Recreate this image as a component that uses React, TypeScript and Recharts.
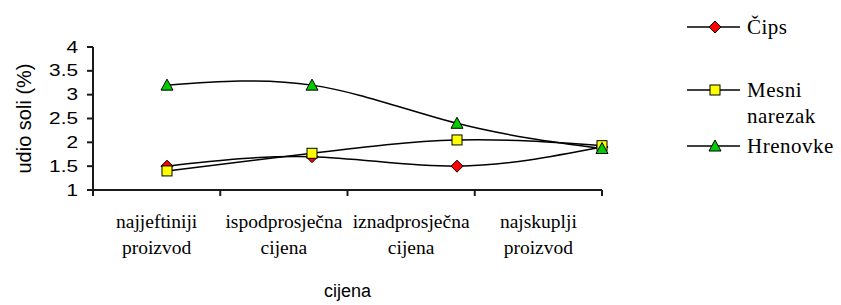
import { LineChart, Line, XAxis, YAxis } from 'recharts'

const categories = ['najjeftiniji\nproizvod', 'ispodprosječna\ncijena', 'iznadprosječna\ncijena', 'najskuplji\nproizvod']
const cips = [1.5, 1.7, 1.5, 1.9]
const mesniNarezak = [1.4, 1.77, 2.05, 1.93]
const hrenovke = [3.2, 3.2, 2.4, 1.87]
const yTicks = [1, 1.5, 2, 2.5, 3, 3.5, 4]
const bandEdges = [0, 1, 2, 3, 4]
const bandCenters = [0.5, 1.5, 2.5, 3.5]
const xTicks = [...bandEdges, ...bandCenters].sort((a, b) => a - b)

const data = categories.map((cat, i) => ({
  cat,
  pos: bandCenters[i],
  cips: cips[i],
  mesni: mesniNarezak[i],
  hrenovke: hrenovke[i],
}))

const SERIF = 'Liberation Serif, DejaVu Serif, serif'
const SANS = 'Liberation Sans, Arial, sans-serif'
const AXIS = '#1a1a1a'

function Diamond({ cx, cy, s = 6 }: any) {
  return <polygon points={`${cx},${cy - s} ${cx + s},${cy} ${cx},${cy + s} ${cx - s},${cy}`} fill="#ff0000" stroke="#000" strokeWidth={1} />
}
function Square({ cx, cy, s = 5 }: any) {
  return <rect x={cx - s} y={cy - s} width={s * 2} height={s * 2} fill="#ffff00" stroke="#000" strokeWidth={1} />
}
function Triangle({ cx, cy, s = 6 }: any) {
  return <polygon points={`${cx},${cy - s} ${cx + s},${cy + s - 1} ${cx - s},${cy + s - 1}`} fill="#00cc00" stroke="#000" strokeWidth={1} />
}

const legendItems = [
  { lines: ['Čips'], Marker: Diamond, top: 17 },
  { lines: ['Mesni', 'narezak'], Marker: Square, top: 80 },
  { lines: ['Hrenovke'], Marker: Triangle, top: 136 },
]

// legend drawn beside the chart, like the Excel original
function LegendBox() {
  return (
    <div style={{ position: 'absolute', left: 680, top: 0, width: 161, height: 170 }}>
      {legendItems.map(({ lines, Marker, top }) => (
        <div key={lines[0]} style={{ position: 'absolute', left: 0, top }}>
          <svg width={60} height={20} style={{ position: 'absolute', left: 0, top: 0 }}>
            <line x1={7} y1={10} x2={60} y2={10} stroke="#000" strokeWidth={1.5} />
            <Marker cx={35} cy={10} />
          </svg>
          <div style={{ position: 'absolute', left: 67, top: -3, fontFamily: SERIF, fontSize: 21, letterSpacing: 0.5, lineHeight: '26px', whiteSpace: 'nowrap' }}>
            {lines.map((l) => <div key={l}>{l}</div>)}
          </div>
        </div>
      ))}
    </div>
  )
}

// edges get a tick mark, band centres get the two-line category label
function CatTick({ x, y, payload }: any) {
  const idx = bandCenters.indexOf(payload.value)
  if (idx < 0) {
    return <path d={`M${x},${y}V${y + 6}`} stroke={AXIS} strokeWidth={2} fill="none" />
  }
  const parts = categories[idx].split('\n')
  return (
    <text x={x} y={y} textAnchor="middle" fontFamily={SERIF} fontSize={19.5} fill="#000">
      {parts.map((p, i) => (
        <tspan key={i} x={x} dy={i === 0 ? 38 : 26}>{p}</tspan>
      ))}
    </text>
  )
}

function YTick({ x, y, payload }: any) {
  return (
    <text transform={`translate(${x},${y}) scale(1.3,1)`} textAnchor="end" dominantBaseline="central" fontFamily={SANS} fontSize={16} fill="#000">
      {payload.value}
    </text>
  )
}

export default function App() {
  return (
    <div style={{ position: 'absolute', left: 0, top: 0, width: 841, height: 305, background: '#fff' }}>
      <LineChart width={841} height={305} data={data} margin={{ top: 47, right: 239, bottom: 0, left: 0 }}>
        <XAxis xAxisId="pts" dataKey="cat" type="category" hide padding={{ left: 74, right: 0 }} />
        <XAxis
          xAxisId="labels"
          dataKey="pos"
          type="number"
          domain={[0, 4]}
          ticks={xTicks}
          axisLine={{ stroke: AXIS, strokeWidth: 2 }}
          tickLine={false}
          tickSize={0}
          tickMargin={0}
          tick={<CatTick />}
          interval={0}
          height={115}
          allowDataOverflow
          label={{ value: 'cijena', position: 'insideBottom', offset: 8, style: { fontFamily: SANS, fontSize: 18, fill: '#000' } }}
        />
        <YAxis
          domain={[1, 4]}
          ticks={yTicks}
          width={93}
          interval={0}
          tickSize={6}
          tickMargin={9}
          axisLine={{ stroke: AXIS, strokeWidth: 2 }}
          tickLine={{ stroke: AXIS, strokeWidth: 2 }}
          tick={<YTick />}
          label={{ value: 'udio soli (%)', angle: -90, position: 'insideLeft', offset: 24, style: { fontFamily: SANS, fontSize: 20, fill: '#000', textAnchor: 'middle' } }}
        />
        <Line xAxisId="pts" type="natural" dataKey="cips" name="Čips" stroke="#000" strokeWidth={1.5} dot={<Diamond />} activeDot={false} isAnimationActive={false} />
        <Line xAxisId="pts" type="natural" dataKey="mesni" name="Mesni narezak" stroke="#000" strokeWidth={1.5} dot={<Square />} activeDot={false} isAnimationActive={false} />
        <Line xAxisId="pts" type="natural" dataKey="hrenovke" name="Hrenovke" stroke="#000" strokeWidth={1.5} dot={<Triangle />} activeDot={false} isAnimationActive={false} />
      </LineChart>
      <LegendBox />
    </div>
  )
}
